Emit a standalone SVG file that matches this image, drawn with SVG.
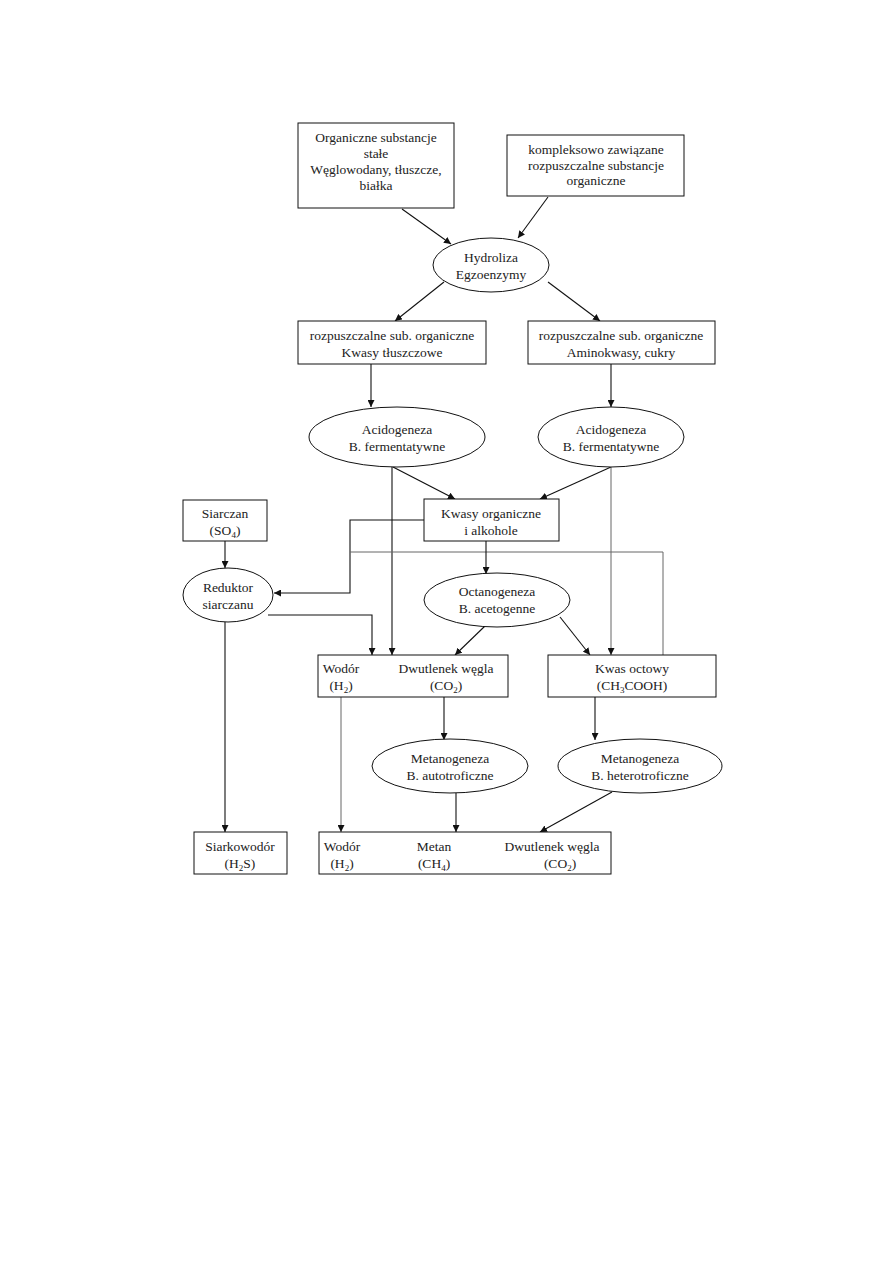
<svg xmlns="http://www.w3.org/2000/svg" width="893" height="1263" viewBox="0 0 893 1263">
<style>
text{font-family:"Liberation Serif","Times New Roman",serif;font-size:13.5px;fill:#222;text-anchor:middle}
.n rect,.n ellipse{fill:#fff;stroke:#111;stroke-width:1}
.c line,.c polyline{stroke:#111;stroke-width:1.1;fill:none}
.c .g{stroke:#666;stroke-width:1}
</style>
<defs>
<marker id="a" viewBox="0 0 10 10" refX="10" refY="5" markerWidth="7" markerHeight="7" markerUnits="userSpaceOnUse" orient="auto"><path d="M0,0L10,5L0,10z" fill="#111"/></marker>
</defs>
<rect width="893" height="1263" fill="#fff"/>
<g class="c">
<line x1="402" y1="209" x2="451" y2="244" marker-end="url(#a)"/>
<line x1="548" y1="197" x2="518" y2="238" marker-end="url(#a)"/>
<line x1="444" y1="282" x2="395" y2="321" marker-end="url(#a)"/>
<line x1="548" y1="282" x2="600" y2="321" marker-end="url(#a)"/>
<line x1="371" y1="364" x2="371" y2="407" marker-end="url(#a)"/>
<line x1="611" y1="364" x2="611" y2="407" marker-end="url(#a)"/>
<line x1="393" y1="467" x2="455" y2="499" marker-end="url(#a)"/>
<line x1="611" y1="467" x2="540" y2="499" marker-end="url(#a)"/>
<line x1="392" y1="467" x2="392" y2="655" marker-end="url(#a)"/>
<line class="g" x1="611" y1="467" x2="611" y2="655" marker-end="url(#a)"/>
<polyline points="424,520 350,520 350,593 274,593" marker-end="url(#a)"/>
<polyline class="g" points="663,655 663,552 350,552"/>
<line x1="486" y1="541" x2="486" y2="574" marker-end="url(#a)"/>
<line x1="225" y1="541" x2="225" y2="568" marker-end="url(#a)"/>
<polyline points="268,615 372,615 372,655" marker-end="url(#a)"/>
<line x1="225" y1="622" x2="225" y2="832" marker-end="url(#a)"/>
<line x1="485" y1="626" x2="455" y2="655" marker-end="url(#a)"/>
<line x1="560" y1="617" x2="590" y2="655" marker-end="url(#a)"/>
<line class="g" x1="341" y1="697" x2="341" y2="832" marker-end="url(#a)"/>
<line x1="444" y1="697" x2="444" y2="740" marker-end="url(#a)"/>
<line x1="595" y1="697" x2="595" y2="740" marker-end="url(#a)"/>
<line x1="456" y1="793" x2="456" y2="832" marker-end="url(#a)"/>
<line x1="612" y1="792" x2="540" y2="832" marker-end="url(#a)"/>
</g>
<g class="n" id="n-organiczne">
<rect x="298" y="123" width="156" height="85"/>
<text x="376" y="142">Organiczne substancje</text>
<text x="376" y="158">stałe</text>
<text x="376" y="174">Węglowodany, tłuszcze,</text>
<text x="376" y="190">białka</text>
</g>
<g class="n" id="n-kompleksowo">
<rect x="507" y="135" width="177" height="61"/>
<text x="596" y="154">kompleksowo zawiązane</text>
<text x="596" y="170">rozpuszczalne substancje</text>
<text x="596" y="185">organiczne</text>
</g>
<g class="n" id="n-hydroliza">
<ellipse cx="491" cy="265" rx="58" ry="27"/>
<text x="491" y="262">Hydroliza</text>
<text x="491" y="279">Egzoenzymy</text>
</g>
<g class="n" id="n-rozp1">
<rect x="298" y="321" width="188" height="43"/>
<text x="392" y="340">rozpuszczalne sub. organiczne</text>
<text x="392" y="357">Kwasy tłuszczowe</text>
</g>
<g class="n" id="n-rozp2">
<rect x="528" y="321" width="187" height="43"/>
<text x="621" y="340">rozpuszczalne sub. organiczne</text>
<text x="621" y="357">Aminokwasy, cukry</text>
</g>
<g class="n" id="n-acido1">
<ellipse cx="397" cy="437" rx="88" ry="30"/>
<text x="397" y="434">Acidogeneza</text>
<text x="397" y="451">B. fermentatywne</text>
</g>
<g class="n" id="n-acido2">
<ellipse cx="611" cy="437" rx="73" ry="30"/>
<text x="611" y="434">Acidogeneza</text>
<text x="611" y="451">B. fermentatywne</text>
</g>
<g class="n" id="n-kwasy">
<rect x="424" y="499" width="135" height="42"/>
<text x="491" y="518">Kwasy organiczne</text>
<text x="491" y="535">i alkohole</text>
</g>
<g class="n" id="n-siarczan">
<rect x="183" y="500" width="84" height="41"/>
<text x="225" y="518">Siarczan</text>
<text x="225" y="535">(SO<tspan font-size="9" dy="3">4</tspan><tspan dy="-3">)</tspan></text>
</g>
<g class="n" id="n-reduktor">
<ellipse cx="228" cy="595" rx="45" ry="27"/>
<text x="228" y="592">Reduktor</text>
<text x="228" y="609">siarczanu</text>
</g>
<g class="n" id="n-octano">
<ellipse cx="497" cy="600" rx="73" ry="27"/>
<text x="497" y="596">Octanogeneza</text>
<text x="497" y="613">B. acetogenne</text>
</g>
<g class="n" id="n-wodor-co2">
<rect x="318" y="655" width="190" height="42"/>
<text x="341" y="673">Wodór</text>
<text x="341" y="690">(H<tspan font-size="9" dy="3">2</tspan><tspan dy="-3">)</tspan></text>
<text x="446" y="673">Dwutlenek węgla</text>
<text x="446" y="690">(CO<tspan font-size="9" dy="3">2</tspan><tspan dy="-3">)</tspan></text>
</g>
<g class="n" id="n-kwas-octowy">
<rect x="548" y="655" width="168" height="42"/>
<text x="632" y="673">Kwas octowy</text>
<text x="632" y="690">(CH<tspan font-size="9" dy="3">3</tspan><tspan dy="-3">COOH)</tspan></text>
</g>
<g class="n" id="n-metano-auto">
<ellipse cx="450" cy="766" rx="78" ry="27"/>
<text x="450" y="763">Metanogeneza</text>
<text x="450" y="780">B. autotroficzne</text>
</g>
<g class="n" id="n-metano-hetero">
<ellipse cx="640" cy="766" rx="82" ry="27"/>
<text x="640" y="763">Metanogeneza</text>
<text x="640" y="780">B. heterotroficzne</text>
</g>
<g class="n" id="n-siarkowodor">
<rect x="194" y="832" width="93" height="42"/>
<text x="240" y="851">Siarkowodór</text>
<text x="240" y="868">(H<tspan font-size="9" dy="3">2</tspan><tspan dy="-3">S)</tspan></text>
</g>
<g class="n" id="n-produkty">
<rect x="319" y="832" width="292" height="42"/>
<text x="342" y="851">Wodór</text>
<text x="342" y="868">(H<tspan font-size="9" dy="3">2</tspan><tspan dy="-3">)</tspan></text>
<text x="434" y="851">Metan</text>
<text x="434" y="868">(CH<tspan font-size="9" dy="3">4</tspan><tspan dy="-3">)</tspan></text>
<text x="552" y="851">Dwutlenek węgla</text>
<text x="560" y="868">(CO<tspan font-size="9" dy="3">2</tspan><tspan dy="-3">)</tspan></text>
</g>
</svg>
